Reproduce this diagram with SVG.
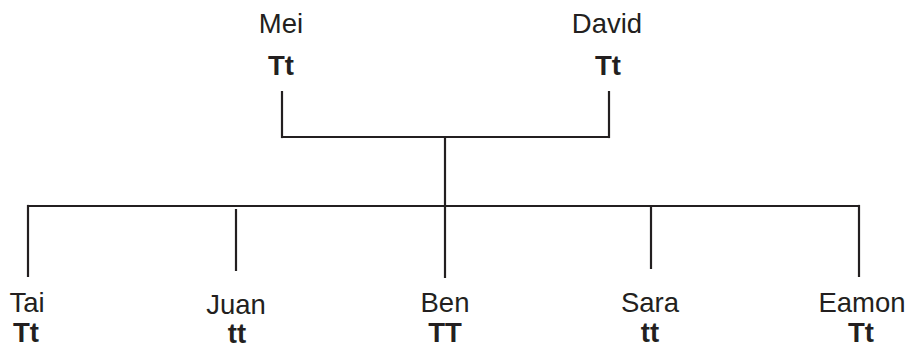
<svg xmlns="http://www.w3.org/2000/svg" width="909" height="349" viewBox="0 0 909 349">
<style>
.n{font-family:"Liberation Sans",Arial,sans-serif;font-size:27.5px;fill:#231f20;text-anchor:middle}
.g{font-family:"Liberation Sans",Arial,sans-serif;font-size:27.5px;font-weight:bold;fill:#231f20;text-anchor:middle}
.c line{stroke:#231f20;stroke-width:2.2;fill:none}
</style>
<rect width="909" height="349" fill="#fff"/>
<g id="mei"><text class="n" x="281" y="33">Mei</text><text class="g" x="281" y="75">Tt</text></g>
<g id="david"><text class="n" x="607" y="33">David</text><text class="g" x="608" y="75">Tt</text></g>
<g id="tai"><text class="n" x="27" y="312">Tai</text><text class="g" x="26" y="342">Tt</text></g>
<g id="juan"><text class="n" x="236" y="314">Juan</text><text class="g" x="237" y="343">tt</text></g>
<g id="ben"><text class="n" x="445" y="312">Ben</text><text class="g" x="445" y="342">TT</text></g>
<g id="sara"><text class="n" x="650" y="312">Sara</text><text class="g" x="650" y="342">tt</text></g>
<g id="eamon"><text class="n" x="862" y="312">Eamon</text><text class="g" x="861" y="342">Tt</text></g>
<g id="connectors" class="c">
<line x1="282" y1="91" x2="282" y2="138.1"/>
<line x1="609" y1="91" x2="609" y2="138.1"/>
<line x1="282" y1="137" x2="609" y2="137"/>
<line x1="445" y1="137" x2="445" y2="278"/>
<line x1="28" y1="206" x2="859" y2="206"/>
<line x1="28" y1="204.9" x2="28" y2="277"/>
<line x1="236" y1="209" x2="236" y2="271"/>
<line x1="651" y1="206" x2="651" y2="269"/>
<line x1="859" y1="204.9" x2="859" y2="277"/>
</g>
</svg>
